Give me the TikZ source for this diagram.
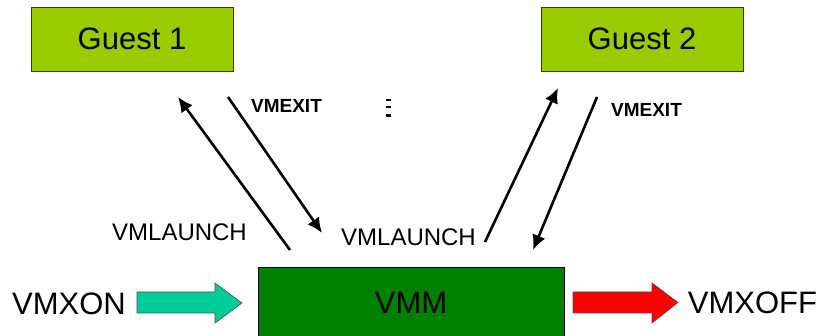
\documentclass[tikz,border=0pt]{standalone}
\usepackage{fontspec}
\setmainfont{Liberation Sans}
\usetikzlibrary{arrows.meta}
\begin{document}
\begin{tikzpicture}[x=1pt,y=-1pt,
  guestbox/.style={draw=black!80,line width=0.8pt,fill=guestgreen,minimum width=202pt,minimum height=64pt,inner sep=0pt,font=\fontsize{31}{36}\selectfont},
  vmmbox/.style={draw=black,line width=0.8pt,fill=vmmgreen,minimum width=306pt,minimum height=71pt,inner sep=0pt},
  lbl/.style={inner sep=0pt,font=\fontsize{24}{28}\selectfont},
  biglbl/.style={inner sep=0pt,font=\fontsize{31}{36}\selectfont},
  exitlbl/.style={inner sep=0pt,font=\fontsize{19}{22}\selectfont\bfseries},
  conn/.style={line width=2.6pt,-{Latex[length=15pt,width=14pt]}},
  blockarrow/.style={draw=black!70,line width=0.6pt}
]
\definecolor{guestgreen}{HTML}{99CC00}
\definecolor{vmmgreen}{HTML}{008000}
\definecolor{teal}{HTML}{00CC99}
\useasboundingbox (0,0) rectangle (823,336);

% boxes
\node[guestbox] (g1) at (132,39) {Guest 1};
\node[guestbox] (g2) at (642,39) {Guest 2};
\node[vmmbox] (vmm) at (411,302.5) {};
\node[biglbl] (vmmtxt) at (411,303) {VMM};

% labels
\node[biglbl] (on) at (69,303.5) {VMXON};
\node[biglbl] (off) at (752.5,302.5) {VMXOFF};
\node[lbl] (launch1) at (179.5,232) {VMLAUNCH};
\node[lbl] (launch2) at (408.5,237.5) {VMLAUNCH};
\node[exitlbl] (exit1) at (286.5,105.5) {VMEXIT};
\node[exitlbl] (exit2) at (646.5,110) {VMEXIT};

% vertical ellipsis between the guests
\fill (386,98.8) rectangle (390.5,101);
\fill (386,106.2) rectangle (390.5,108.4);
\fill (386,114.5) rectangle (390.5,116.7);

% transitions between VMM and guests
\coordinate (l1s) at (290,250);
\coordinate (l1e) at (178,97);
\coordinate (e1s) at (228,97);
\coordinate (e1e) at (322,233);
\coordinate (l2s) at (485,242);
\coordinate (l2e) at (558,88);
\coordinate (e2s) at (597,97);
\coordinate (e2e) at (533,250);
\draw[conn] (l1s) -- (l1e);
\draw[conn] (e1s) -- (e1e);
\draw[conn] (l2s) -- (l2e);
\draw[conn] (e2s) -- (e2e);

% block arrows for entering and leaving VMX operation
\draw[blockarrow,fill=teal] (137,292) -- (215,292) -- (215,283) -- (242,303) -- (215,323) -- (215,313) -- (137,313) -- cycle;
\draw[blockarrow,fill=red] (573,292) -- (652,292) -- (652,283) -- (678,302.5) -- (652,323) -- (652,313) -- (573,313) -- cycle;
\end{tikzpicture}
\end{document}
